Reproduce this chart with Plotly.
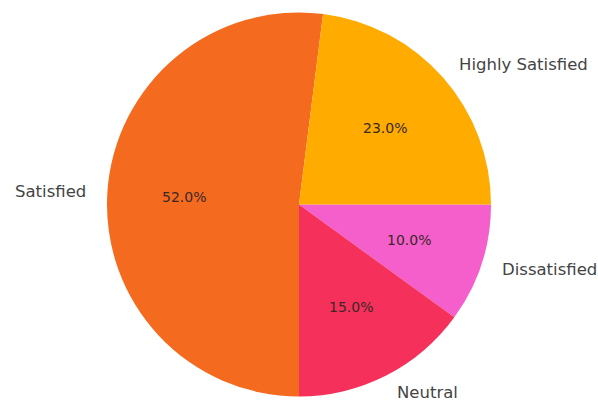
import math
import plotly.graph_objects as go

labels = ["Highly Satisfied", "Satisfied", "Neutral", "Dissatisfied"]
values = [23, 52, 15, 10]
colors = ["#FFAB00", "#F46B20", "#F5305A", "#F55FCB"]

W, H = 598, 403
cx, cy, r = 299, 204.5, 192  # pixel centre/radius of the pie

# matplotlib draws counterclockwise from 3 o'clock; plotly equivalent:
# reversed order, clockwise, starting at 3 o'clock
fig = go.Figure(go.Pie(
    labels=labels[::-1], values=values[::-1], sort=False,
    direction="clockwise", rotation=90,
    marker=dict(colors=colors[::-1], line=dict(width=0)),
    textinfo="none", showlegend=False,
    domain=dict(x=[(cx - r) / W, (cx + r) / W],
                y=[(H - cy - r) / H, (H - cy + r) / H]),
))

total = sum(values)
start = 0.0
anns = []
for lab, v in zip(labels, values):
    frac = v / total
    mid = math.radians((start + frac / 2) * 360)
    start += frac
    c, s = math.cos(mid), math.sin(mid)
    lx = cx + 1.1 * r * c
    ly = cy - 1.1 * r * s
    anns.append(dict(x=lx / W, y=1 - ly / H, xref="paper", yref="paper",
                     text=lab, showarrow=False,
                     xanchor="left" if c >= 0 else "right", yanchor="middle",
                     font=dict(family="DejaVu Sans", size=16.5, color="#444444")))
    px = cx + 0.6 * r * c
    py = cy - 0.6 * r * s
    anns.append(dict(x=px / W, y=1 - py / H, xref="paper", yref="paper",
                     text=f"{100 * frac:.1f}%", showarrow=False,
                     xanchor="center", yanchor="middle",
                     font=dict(family="DejaVu Sans", size=14, color="#3a2828")))

fig.update_layout(width=W, height=H, margin=dict(l=0, r=0, t=0, b=0),
                  paper_bgcolor="white", plot_bgcolor="white",
                  annotations=anns)
fig.write_html("out.html")
